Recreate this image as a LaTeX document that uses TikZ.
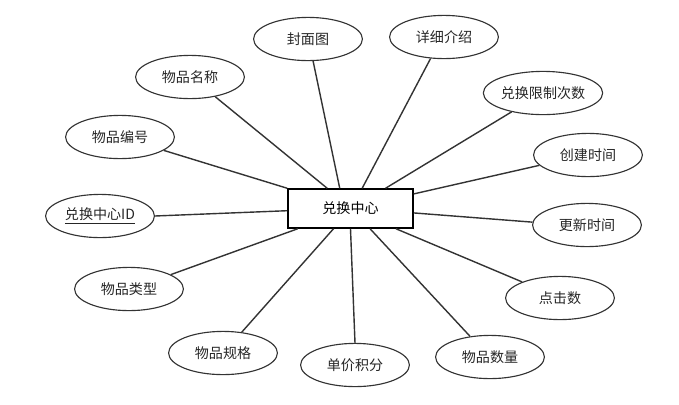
\documentclass[tikz,border=0pt]{standalone}
\usepackage{fontspec}
\newfontfamily\cjk{Noto Sans CJK SC}
\usepackage{tikz}
\usetikzlibrary{shapes.geometric, positioning}

\begin{document}
\begin{tikzpicture}[
    x=0.025cm, y=-0.025cm,
    attr/.style={ellipse, draw=black!80, line width=0.8pt, minimum width=2.72cm, minimum height=1.08cm, inner sep=0pt, font=\cjk, text=black!85},
    entity/.style={rectangle, draw=black, line width=1.2pt, minimum width=3.12cm, minimum height=0.97cm, font=\cjk},
    link/.style={draw=black!80, line width=1pt}
]
    \useasboundingbox (0,0) rectangle (679,404);
    \node [entity] (center) at (350.5,208.5) {兑换中心};
    % attributes, clockwise from the top
    \node [attr] (cover) at (308,39) {封面图};
    \node [attr] (detail) at (444,37) {详细介绍};
    \node [attr] (limit) at (543,93) {兑换限制次数};
    \node [attr] (created) at (588,155) {创建时间};
    \node [attr] (updated) at (587,225) {更新时间};
    \node [attr] (clicks) at (560,298) {点击数};
    \node [attr] (amount) at (490,357) {物品数量};
    \node [attr] (price) at (355,365) {单价积分};
    \node [attr] (spec) at (223,353) {物品规格};
    \node [attr] (type) at (129,289) {物品类型};
    \node [attr] (id) at (100,216) {\underline{兑换中心ID}};
    \node [attr] (number) at (120,137) {物品编号};
    \node [attr] (name) at (190,77) {物品名称};
    % connectors
    \draw [link] (cover.283) -- (center.118);
    \draw [link] (detail.238) -- (center.60);
    \draw [link] (limit.211) -- (center.30);
    \draw [link] (created.192) -- (center.13);
    \draw [link] (updated.177) -- (center.356);
    \draw [link] (clicks.157) -- (center.336);
    \draw [link] (amount.134) -- (center.314);
    \draw [link] (price.north) -- (center.south);
    \draw [link] (spec.48) -- (center.230);
    \draw [link] (type.19) -- (center.201);
    \draw [link] (id.east) -- (center.182);
    \draw [link] (number.343) -- (center.north west);
    \draw [link] (name.322) -- (center.139);
\end{tikzpicture}
\end{document}
